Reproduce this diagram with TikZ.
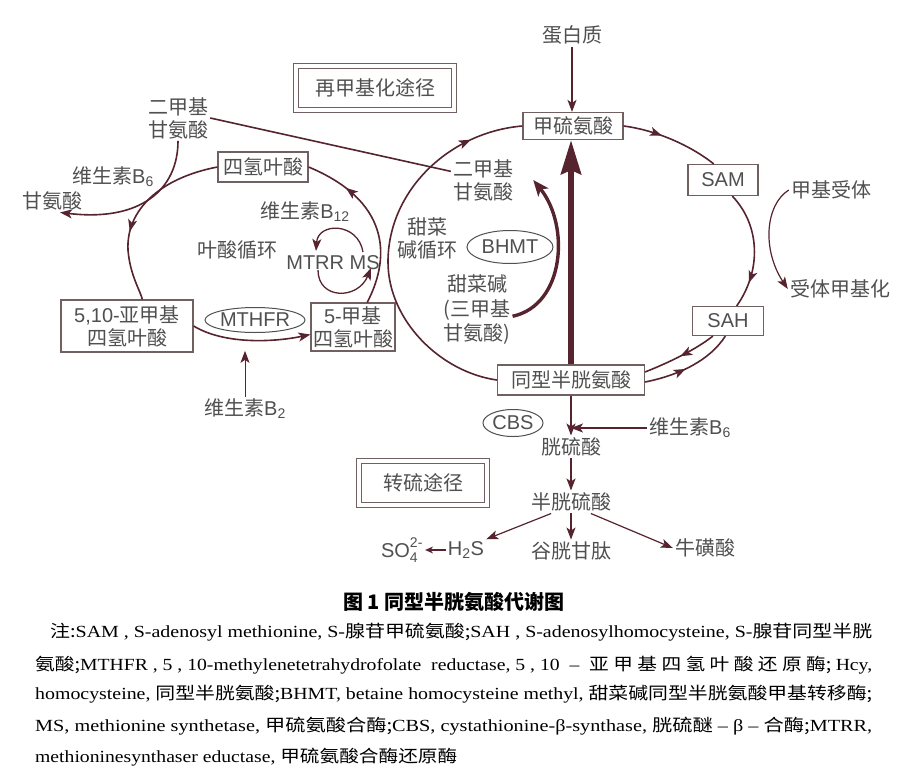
\documentclass[tikz,border=0pt]{standalone}
\usepackage{fontspec}
\setmainfont{Noto Sans CJK SC}
\newfontfamily\lat{Liberation Sans}
\newfontfamily\notelat{Liberation Serif}
\usepackage{graphicx}
\usetikzlibrary{arrows.meta, shapes, decorations.markings}
\definecolor{pathred}{RGB}{86, 36, 46}
\definecolor{boxgray}{RGB}{112, 96, 96}
\definecolor{labelgray}{RGB}{80, 80, 80}
\newcommand{\vitB}[1]{维生素{\lat B\textsubscript{#1}}}
\newcommand{\en}[1]{{\notelat #1}}

\begin{document}
\begin{tikzpicture}[x=1pt, y=-1pt,
  every node/.style={text=labelgray, font=\fontsize{20}{23}\selectfont, align=center, inner sep=2pt},
  mbox/.style={draw=boxgray, line width=1.2pt, inner sep=0pt},
  titlebox/.style={draw=boxgray, double, double distance=3.5pt, line width=1pt, minimum width=158pt, minimum height=44pt},
  enz/.style={ellipse, draw=labelgray, line width=1pt, inner sep=0pt},
  flow/.style={draw, color=pathred, line width=1.6pt},
  tip/.style={-{Stealth[length=12pt, width=9pt, inset=3pt]}},
  midarrow/.style={postaction={decorate, decoration={markings, mark=at position #1 with {\arrow{Stealth[length=12pt, width=9pt, inset=3pt]}}}}},
  noteline/.style={anchor=west, text=black, font=\fontsize{17}{20}\selectfont, inner sep=0pt}
]
  \fill[white] (0,0) rectangle (908,782);
  \useasboundingbox (0,0) rectangle (908,782);

  \node[titlebox] (remeth) at (375,88) {再甲基化途径};
  \node[titlebox, minimum width=128pt] (transs) at (423,483) {转硫途径};

  \node (protein) at (572,35) {蛋白质};
  \node[mbox, minimum width=100pt, minimum height=27pt] (met) at (573,126) {甲硫氨酸};
  \node[mbox, minimum width=70pt, minimum height=31pt] (sam) at (723,180) {\lat SAM};
  \node[mbox, minimum width=71pt, minimum height=29pt] (sah) at (728,321) {\lat SAH};
  \node[mbox, minimum width=147pt, minimum height=30pt] (hcy) at (571,380) {同型半胱氨酸};
  \node[mbox, minimum width=90pt, minimum height=30pt] (thf) at (263,167) {四氢叶酸};
  \node[mbox, minimum width=132pt, minimum height=52pt] (mthften) at (127,326) {{\lat 5,10-}亚甲基\\四氢叶酸};
  \node[mbox, minimum width=84pt, minimum height=48pt] (mthffive) at (353,327) {{\lat 5-}甲基\\四氢叶酸};

  \node[enz, minimum width=100pt, minimum height=25pt] (mthfr) at (255,320) {\lat MTHFR};
  \node[enz, minimum width=86pt, minimum height=33pt] (bhmt) at (510,247) {\lat BHMT};
  \node[enz, minimum width=60pt, minimum height=27pt] (cbs) at (513,423) {\lat CBS};

  \node (dmga) at (178,118) {二甲基\\甘氨酸};
  \node (dmgb) at (483,180) {二甲基\\甘氨酸};
  \node (bsixa) at (113,177) {\vitB{6}};
  \node (gly) at (52,201) {甘氨酸};
  \node (btwelve) at (305,212) {\vitB{12}};
  \node (folcyc) at (237,250) {叶酸循环};
  \node (mtrr) at (333,263) {\lat MTRR MS};
  \node (btwo) at (245,409) {\vitB{2}};
  \node (betcyc) at (427,238) {甜菜\\碱循环};
  \node[font=\fontsize{20}{24.5}\selectfont] (betaine) at (477,310) {甜菜碱\\(三甲基\\甘氨酸)};
  \node (accpt) at (831,190) {甲基受体};
  \node (accmet) at (840,289) {受体甲基化};
  \node (bsixb) at (690,428) {\vitB{6}};
  \node (cysta) at (571,447) {胱硫酸};
  \node (cys) at (571,502) {半胱硫酸};
  \node (gsh) at (571,551) {谷胱甘肽};
  \node (taurine) at (705,548) {牛磺酸};
  \node (htwos) at (466,550) {\lat H\textsubscript{2}S};
  \node (sulf) at (402,550) {\lat SO\rlap{\raisebox{-0.2ex}{\textsubscript{4}}}\raisebox{0.2ex}{\textsuperscript{2-}}};

  \draw[flow, tip] (protein.south) -- (protein.south |- met.north);
  \draw[flow, midarrow=0.4] (met.east) .. controls (655,130) and (690,145) .. (sam.120);
  \draw[flow, midarrow=0.78] (sam.-60) .. controls (760,225) and (762,270) .. (sah.60);
  \draw[flow, midarrow=0.5] (sah.-135) .. controls (695,350) and (670,362) .. ([yshift=8pt]hcy.east);
  \draw[flow, midarrow=0.45] ([yshift=-2pt]hcy.east) .. controls (680,375) and (710,360) .. (sah.-100);
  \draw[flow, midarrow=0.86] (hcy.west) .. controls (440,372) and (388,320) .. (388,262)
    .. controls (388,190) and (450,132) .. (met.west);
  \draw[flow, line width=1.2pt, tip] (accpt.west) .. controls (765,205) and (762,250) .. (accmet.west);
  \draw[pathred, line width=6pt, -{Stealth[length=34pt, width=20pt, inset=4pt]}] (hcy.north) -- (hcy.north |- met.south);
  \draw[pathred, line width=3.4pt, -{Stealth[length=16pt, width=13pt, inset=4pt]}] (betaine.-10)
    .. controls (565,305) and (570,225) .. ([xshift=18pt]dmgb.east);
  \draw[flow] (dmga.east) -- (dmgb.165);

  \draw[flow, tip] (dmga.south) .. controls (178,190) and (140,222) .. (gly.-55);
  \draw[flow, midarrow=0.62] (thf.west) .. controls (160,178) and (126,210) .. (128,250)
    .. controls (130,275) and (140,290) .. (mthften.60);
  \draw[flow, midarrow=0.75] (mthffive.60) .. controls (392,255) and (388,200) .. (thf.east);
  \draw[flow, line width=1.3pt, tip] (363,252) .. controls (358,222) and (318,222) .. (316,251);
  \draw[flow, line width=1.3pt, tip] (318,270) .. controls (318,300) and (358,300) .. (371,268);
  \draw[flow, tip] (mthften.east) .. controls (225,345) and (275,342) .. (mthffive.-170);
  \draw[flow, line width=1pt, tip] (btwo.north) -- ++(0,-46);

  \draw[flow, tip] (hcy.south) -- (cysta.north);
  \draw[flow, tip] (bsixb.west) -- (bsixb.west -| hcy.south);
  \draw[flow, tip] (cysta.south) -- (cys.north);
  \draw[flow, tip] (cys.south) -- (gsh.north);
  \draw[flow, line width=1.2pt, tip] (cys.-150) -- (htwos.north east);
  \draw[flow, line width=1.2pt, tip] (cys.-30) -- (taurine.west);
  \draw[flow, line width=1.2pt, -{Stealth[length=8pt, width=7pt]}] (htwos.west) -- (sulf.east);

  \node[font=\bfseries\fontsize{20}{24}\selectfont, text=black] (caption) at (454,602) {图 1 同型半胱氨酸代谢图};
  \node[noteline] (noteA) at (50,632) {\resizebox{822pt}{\height}{注:\en{SAM , S-adenosyl methionine, S-}腺苷甲硫氨酸;\en{SAH , S-adenosylhomocysteine, S-}腺苷同型半胱}};
  \node[noteline] (noteB) at (35,665) {\resizebox{837pt}{\height}{氨酸;\en{MTHFR , 5 , 10-methylenetetrahydrofolate\ \ reductase, 5 , 10 \ – \ }亚 甲 基 四 氢 叶 酸 还 原 酶; \en{Hcy,}}};
  \node[noteline] (noteC) at (35,694) {\resizebox{837pt}{\height}{\en{homocysteine, }同型半胱氨酸;\en{BHMT, betaine homocysteine methyl, }甜菜碱同型半胱氨酸甲基转移酶;}};
  \node[noteline] (noteD) at (35,726) {\resizebox{837pt}{\height}{\en{MS, methionine synthetase, }甲硫氨酸合酶;\en{CBS, cystathionine-β-synthase, }胱硫醚\en{\ – β – }合酶;\en{MTRR,}}};
  \node[noteline] (noteE) at (35,757) {\resizebox{422pt}{\height}{\en{methioninesynthaser eductase, }甲硫氨酸合酶还原酶}};
\end{tikzpicture}
\end{document}
